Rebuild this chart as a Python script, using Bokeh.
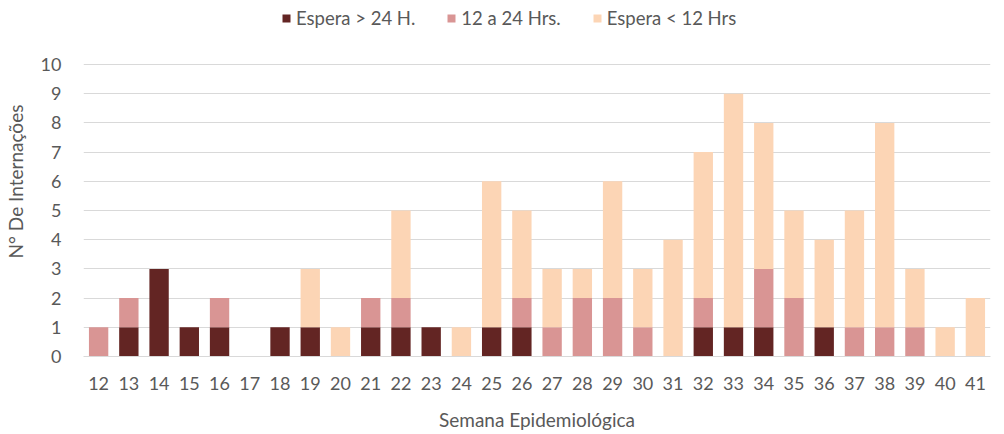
from bokeh.plotting import figure
from bokeh.models import Legend, LegendItem, FactorRange, Range1d, FixedTicker
from bokeh.embed import file_html
from bokeh.resources import INLINE

weeks = [str(w) for w in range(12, 42)]
mais24 = [0, 1, 3, 1, 1, 0, 1, 1, 0, 1, 1, 1, 0, 1, 1, 0, 0, 0, 0, 0, 1, 1, 1, 0, 1, 0, 0, 0, 0, 0]
de12a24 = [1, 1, 0, 0, 1, 0, 0, 0, 0, 1, 1, 0, 0, 0, 1, 1, 2, 2, 1, 0, 1, 0, 2, 2, 0, 1, 1, 1, 0, 0]
menos12 = [0, 0, 0, 0, 0, 0, 0, 2, 1, 0, 3, 0, 1, 5, 3, 2, 1, 4, 2, 4, 5, 8, 5, 3, 3, 4, 7, 2, 1, 2]
series = ["mais24", "de12a24", "menos12"]
labels = ["Espera > 24 H.", "12 a 24 Hrs.", "Espera < 12 Hrs"]
colors = ["#632523", "#D99594", "#FCD5B5"]
yticks = list(range(0, 11))

FONT = "Lato"
TXT = "#595959"

# layout: frame from y=6 to y=356 in page px; value 10 sits at y=64
FRAME_H = 350
Y_END = FRAME_H / 29.2

p = figure(width=1000, height=433, x_range=FactorRange(*weeks, range_padding=0),
           y_range=Range1d(0, Y_END), output_backend="svg", toolbar_location=None,
           min_border_left=80, min_border_right=10, min_border_top=6, min_border_bottom=77)
p.outline_line_color = None

data = dict(weeks=weeks, mais24=mais24, de12a24=de12a24, menos12=menos12)
rs = p.vbar_stack(series, x="weeks", width=0.64, color=colors, line_color=None, source=data)

legend = Legend(items=[LegendItem(label=l, renderers=[r]) for l, r in zip(labels, rs)],
                orientation="horizontal", location=(198, 327),
                label_text_font=FONT, label_text_font_size="18.5px", label_text_color=TXT,
                glyph_width=10, glyph_height=10, label_standoff=5, spacing=31,
                border_line_color=None, background_fill_alpha=0, padding=0, margin=0)
p.add_layout(legend, "center")

p.yaxis.ticker = FixedTicker(ticks=yticks)
p.ygrid.ticker = FixedTicker(ticks=yticks)
p.ygrid.grid_line_color = "#D9D9D9"
p.ygrid.grid_line_width = 1
p.xgrid.grid_line_color = None

for ax in (p.xaxis[0], p.yaxis[0]):
    ax.major_tick_line_color = None
    ax.minor_tick_line_color = None
    ax.major_label_text_font = FONT
    ax.major_label_text_font_size = "18px"
    ax.major_label_text_color = TXT
    ax.axis_label_text_font = FONT
    ax.axis_label_text_font_size = "19px"
    ax.axis_label_text_color = TXT
    ax.axis_label_text_font_style = "normal"

p.yaxis.axis_line_color = None
p.xaxis.axis_line_color = "#D9D9D9"
p.xaxis.major_label_standoff = 14
p.yaxis.major_label_standoff = 16
p.xaxis.axis_label = "Semana Epidemiológica"
p.yaxis.axis_label = "N° De Internações"
p.xaxis.axis_label_standoff = 15
p.yaxis.axis_label_standoff = 11

open("out.html", "w").write(file_html(p, INLINE))
